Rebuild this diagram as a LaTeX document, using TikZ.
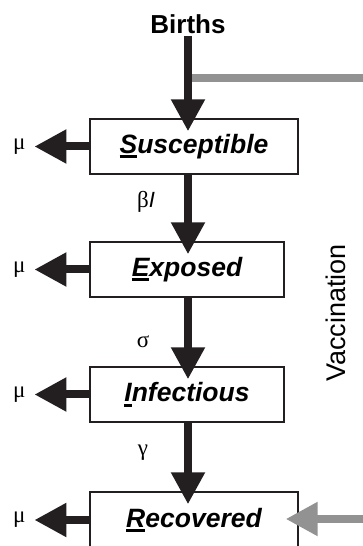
\documentclass[tikz,border=0pt]{standalone}
\usepackage{fontspec}
\setmainfont{Liberation Sans}
\newfontfamily\greekfont{Liberation Serif}
\usetikzlibrary{arrows.meta}
\newcommand\firstul[1]{\leavevmode\setbox0\hbox{#1}\rlap{\rule[-5pt]{\wd0}{3pt}}\box0}
\definecolor{arrowblack}{HTML}{231F20}
\definecolor{vaccgray}{HTML}{929292}
\begin{document}
\begin{tikzpicture}[x=1pt,y=1pt,
  box/.style={draw=arrowblack, line width=1.3pt, minimum height=55pt, inner sep=0pt,
    font=\fontsize{26.5}{30}\selectfont\bfseries\itshape},
  flow/.style={line width=8pt, draw=arrowblack, -{Triangle[length=32pt,width=32pt]}},
  vline/.style={line width=7.5pt, draw=vaccgray},
  varrow/.style={line width=8pt, draw=vaccgray, -{Triangle[length=32pt,width=32pt]}},
  greek/.style={font=\greekfont\fontsize{23}{26}\selectfont, inner sep=0pt},
  label/.style={font=\fontsize{26}{30}\selectfont, inner sep=0pt}
]
\useasboundingbox (0,0) rectangle (363,546);
% boxes
\node[box, minimum width=208pt] (S) at (194,399.5) {\firstul{S}usceptible};
\node[box, minimum width=194pt] (E) at (187,276.5) {\firstul{E}xposed};
\node[box, minimum width=194pt] (I) at (187,151.5) {\firstul{I}nfectious};
\node[box, minimum width=208pt, minimum height=56pt] (R) at (194,26) {\firstul{R}ecovered};
% births
\node[label, font=\fontsize{26}{30}\selectfont\bfseries] (births) at (188,522) {Births};
\coordinate (top) at (188,510);
% vaccination
\coordinate (vtop) at (363,468);
\coordinate (vbot) at (363,27);
\draw[vline] (top |- vtop) -- (vtop);
\draw[varrow] (vbot) -- ([xshift=-13pt]R.east |- vbot);
\node[label, rotate=90, font=\fontsize{27}{30}\selectfont] (vacc) at (336,233) {Vaccination};
% main flow
\draw[flow] (top) -- ([yshift=-13pt]top |- S.north);
\draw[flow] (top |- S.south) -- ([yshift=-13pt]top |- E.north);
\draw[flow] (top |- E.south) -- ([yshift=-13pt]top |- I.north);
\draw[flow] (top |- I.south) -- ([yshift=-13pt]top |- R.north);
% rate labels
\node[greek] (beta) at (146,344) {β\textit{\fontsize{22}{26}\selectfont\rmfamily I}};
\node[greek] (sigma) at (143,204) {σ};
\node[greek] (gamma) at (143,93) {γ};
% deaths
\foreach \b in {S,E,I,R}{
  \draw[flow] (\b.west) -- ([xshift=-55pt]\b.west);
  \node[greek] (mu\b) at ([xshift=-70pt]\b.west) {μ};
}
\end{tikzpicture}
\end{document}
